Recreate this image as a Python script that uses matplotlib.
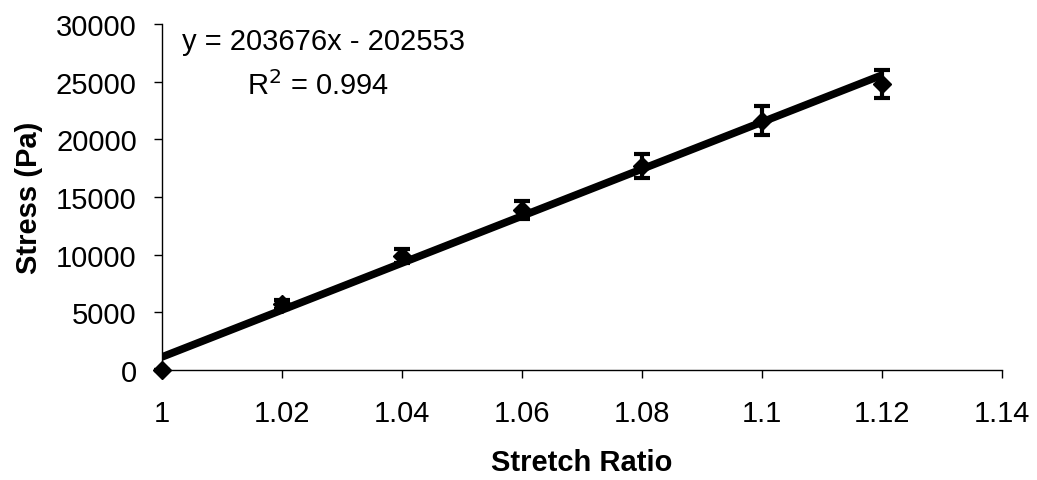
import matplotlib.pyplot as plt
import numpy as np

plt.rcParams['font.family'] = ['Liberation Sans', 'DejaVu Sans']

# stretch ratio vs. measured stress
stretch = [1.00, 1.02, 1.04, 1.06, 1.08, 1.10, 1.12]
stress = [0, 5700, 9850, 13850, 17700, 21600, 24800]
stress_err = [0, 400, 600, 800, 1050, 1250, 1200]

# linear trend line
slope = 203676
intercept = -202553
r_squared = 0.994

fs = 21

fig = plt.figure(figsize=(10.37, 4.81), dpi=100)
ax = fig.add_axes([0.156, 0.2287, 0.81, 0.7193])

fit_x = np.array([stretch[0], stretch[-1]])
ax.plot(fit_x, slope * fit_x + intercept, color='black', lw=5.5, solid_capstyle='butt', zorder=2)

ax.errorbar(stretch, stress, yerr=stress_err, fmt='D', color='black', ms=9,
            ecolor='black', elinewidth=3, capsize=5.5, capthick=3, zorder=3, clip_on=False)

ax.set_xlim(1.0, 1.14)
ax.set_ylim(0, 30000)
ax.set_xticks(np.arange(1.0, 1.141, 0.02))
ax.set_xticklabels(['1', '1.02', '1.04', '1.06', '1.08', '1.1', '1.12', '1.14'])
ax.set_yticks(np.arange(0, 30001, 5000))
ax.tick_params(axis='both', labelsize=fs, direction='out', length=6, width=1)
ax.tick_params(axis='x', pad=15)
ax.tick_params(axis='y', pad=12)

for side in ('top', 'right'):
    ax.spines[side].set_visible(False)
ax.spines['left'].set_linewidth(1)
ax.spines['bottom'].set_linewidth(1)

ax.set_xlabel('Stretch Ratio', fontsize=fs, fontweight='bold', labelpad=15)
ax.set_ylabel('Stress (Pa)', fontsize=fs, fontweight='bold', labelpad=9)

eq = f'y = {slope}x - {abs(intercept)}'
ax.text(0.024, 0.928, eq, transform=ax.transAxes, fontsize=fs, va='baseline', ha='left')
ax.text(0.186, 0.797, f'R$^2$ = {r_squared}', transform=ax.transAxes, fontsize=fs,
        va='baseline', ha='center')

fig.savefig('out.png', dpi=100)
